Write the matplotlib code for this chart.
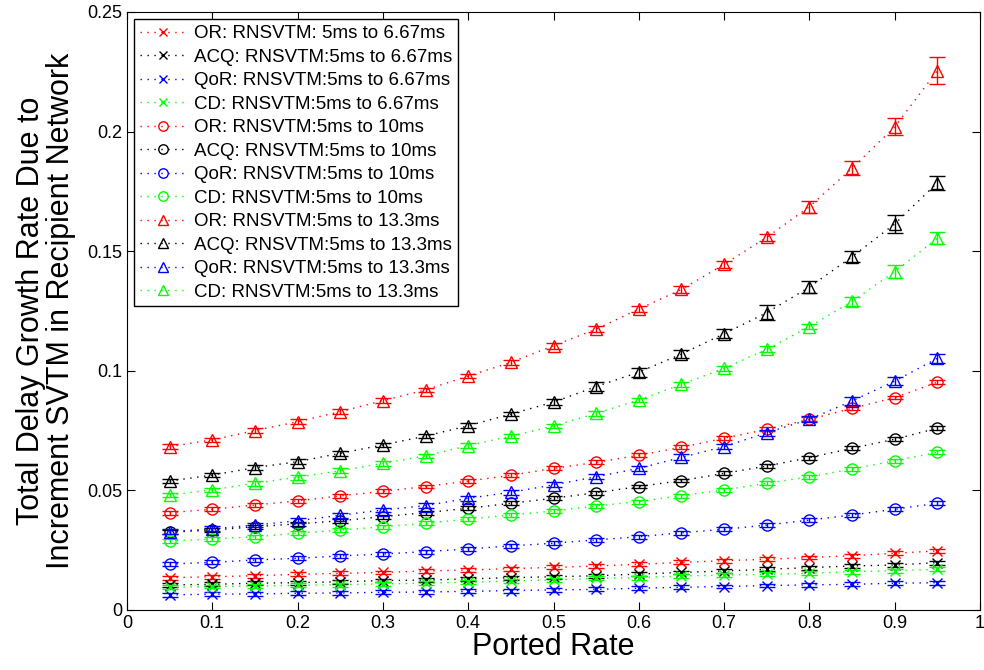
import numpy as np
import matplotlib.pyplot as plt

plt.rcParams['font.family'] = ['Liberation Sans', 'DejaVu Sans']

rate = [0.05, 0.1, 0.15, 0.2, 0.25, 0.3, 0.35, 0.4, 0.45, 0.5,
        0.55, 0.6, 0.65, 0.7, 0.75, 0.8, 0.85, 0.9, 0.95]

# 5ms to 6.67ms
or_667 = [0.0135, 0.0139, 0.0143, 0.0149, 0.0153, 0.0157, 0.0163, 0.0167, 0.0173, 0.0178,
          0.0184, 0.0191, 0.0199, 0.0206, 0.0212, 0.0219, 0.0227, 0.0237, 0.0247]
acq_667 = [0.0105, 0.0107, 0.0112, 0.0114, 0.0118, 0.0123, 0.0125, 0.0130, 0.0135, 0.0139,
           0.0143, 0.0150, 0.0157, 0.0163, 0.0170, 0.0177, 0.0184, 0.0188, 0.0198]
qor_667 = [0.0063, 0.0066, 0.0067, 0.0070, 0.0071, 0.0074, 0.0075, 0.0078, 0.0081, 0.0084,
           0.0086, 0.0091, 0.0095, 0.0098, 0.0102, 0.0105, 0.0107, 0.0112, 0.0114]
cd_667 = [0.0095, 0.0098, 0.0100, 0.0103, 0.0106, 0.0109, 0.0112, 0.0116, 0.0121, 0.0126,
          0.0132, 0.0135, 0.0142, 0.0146, 0.0149, 0.0153, 0.0160, 0.0164, 0.0170]

# 5ms to 10ms
or_10 = [0.0407, 0.0421, 0.0439, 0.0456, 0.0477, 0.0496, 0.0516, 0.0539, 0.0563, 0.0592,
         0.0617, 0.0647, 0.0680, 0.0718, 0.0755, 0.0797, 0.0843, 0.0888, 0.0952]
acq_10 = [0.0325, 0.0334, 0.0348, 0.0360, 0.0373, 0.0390, 0.0407, 0.0425, 0.0446, 0.0467,
          0.0490, 0.0516, 0.0541, 0.0571, 0.0602, 0.0637, 0.0676, 0.0714, 0.0760]
qor_10 = [0.0192, 0.0199, 0.0209, 0.0216, 0.0226, 0.0234, 0.0244, 0.0255, 0.0268, 0.0279,
          0.0293, 0.0306, 0.0323, 0.0337, 0.0355, 0.0376, 0.0397, 0.0421, 0.0446]
cd_10 = [0.0288, 0.0297, 0.0306, 0.0321, 0.0334, 0.0348, 0.0362, 0.0380, 0.0397, 0.0414,
         0.0435, 0.0453, 0.0478, 0.0502, 0.0530, 0.0557, 0.0589, 0.0624, 0.0659]

# 5ms to 13.3ms
or_133 = [0.0683, 0.0711, 0.0750, 0.0787, 0.0829, 0.0875, 0.0920, 0.0978, 0.1035, 0.1105,
          0.1174, 0.1258, 0.1340, 0.1445, 0.1558, 0.1686, 0.1847, 0.2020, 0.2255]
acq_133 = [0.0539, 0.0564, 0.0595, 0.0620, 0.0655, 0.0690, 0.0727, 0.0770, 0.0819, 0.0869,
           0.0934, 0.0994, 0.1070, 0.1155, 0.1243, 0.1350, 0.1477, 0.1614, 0.1786]
qor_133 = [0.0327, 0.0339, 0.0355, 0.0373, 0.0396, 0.0418, 0.0436, 0.0467, 0.0492, 0.0523,
           0.0557, 0.0592, 0.0638, 0.0683, 0.0741, 0.0797, 0.0874, 0.0957, 0.1052]
cd_133 = [0.0481, 0.0502, 0.0530, 0.0555, 0.0582, 0.0613, 0.0644, 0.0687, 0.0727, 0.0769,
          0.0822, 0.0878, 0.0943, 0.1010, 0.1090, 0.1185, 0.1290, 0.1415, 0.1554]

# error bar half widths
err_small = [0.0008, 0.0008, 0.0008, 0.0008, 0.0008, 0.0008, 0.0008, 0.0008, 0.0008, 0.0008,
             0.0008, 0.0008, 0.0008, 0.0008, 0.0008, 0.0008, 0.0008, 0.0008, 0.0008]
err_or_133 = [0.0010, 0.0010, 0.0010, 0.0010, 0.0010, 0.0010, 0.0010, 0.0010, 0.0010, 0.0012,
              0.0013, 0.0014, 0.0015, 0.0015, 0.0015, 0.0025, 0.0030, 0.0035, 0.0058]
err_acq_133 = [0.0010, 0.0010, 0.0010, 0.0010, 0.0010, 0.0010, 0.0010, 0.0010, 0.0010, 0.0012,
               0.0018, 0.0018, 0.0015, 0.0020, 0.0030, 0.0025, 0.0022, 0.0038, 0.0030]
err_cd_133 = [0.0010, 0.0010, 0.0010, 0.0010, 0.0010, 0.0010, 0.0010, 0.0010, 0.0010, 0.0010,
              0.0010, 0.0010, 0.0010, 0.0012, 0.0012, 0.0012, 0.0018, 0.0028, 0.0025]
err_qor_133 = [0.0010, 0.0010, 0.0010, 0.0010, 0.0010, 0.0010, 0.0010, 0.0010, 0.0010, 0.0010,
               0.0010, 0.0010, 0.0012, 0.0012, 0.0012, 0.0012, 0.0015, 0.0018, 0.0018]

series = [
    ('OR: RNSVTM: 5ms to 6.67ms', or_667, err_small, 'x', 'r'),
    ('ACQ: RNSVTM:5ms to 6.67ms', acq_667, err_small, 'x', 'k'),
    ('QoR: RNSVTM:5ms to 6.67ms', qor_667, err_small, 'x', 'b'),
    ('CD: RNSVTM:5ms to 6.67ms', cd_667, err_small, 'x', '#00ff00'),
    ('OR: RNSVTM:5ms to 10ms', or_10, err_small, 'o', 'r'),
    ('ACQ: RNSVTM:5ms to 10ms', acq_10, err_small, 'o', 'k'),
    ('QoR: RNSVTM:5ms to 10ms', qor_10, err_small, 'o', 'b'),
    ('CD: RNSVTM:5ms to 10ms', cd_10, err_small, 'o', '#00ff00'),
    ('OR: RNSVTM:5ms to 13.3ms', or_133, err_or_133, '^', 'r'),
    ('ACQ: RNSVTM:5ms to 13.3ms', acq_133, err_acq_133, '^', 'k'),
    ('QoR: RNSVTM:5ms to 13.3ms', qor_133, err_qor_133, '^', 'b'),
    ('CD: RNSVTM:5ms to 13.3ms', cd_133, err_cd_133, '^', '#00ff00'),
]

fig = plt.figure(figsize=(9.84, 6.70), dpi=100)
ax = fig.add_axes([0.129, 0.0896, 0.867, 0.8925])

dots = (0, (1, 4))
for label, y, e, m, c in series:
    ms = 6.5 if m == 'x' else 8
    ax.errorbar(rate, y, yerr=e, fmt='none', ecolor=c, capsize=5.5,
                elinewidth=1, capthick=1)
    ax.plot(rate, y, marker=m, color=c, ls=dots, lw=1, mfc='none', mec=c,
            ms=ms, label=label)

ax.set_xlim(0, 1)
ax.set_ylim(0, 0.25)
ax.set_xticks(np.arange(0, 1.01, 0.1))
ax.set_xticklabels(['0', '0.1', '0.2', '0.3', '0.4', '0.5', '0.6', '0.7', '0.8', '0.9', '1'])
ax.set_yticks([0, 0.05, 0.1, 0.15, 0.2, 0.25])
ax.set_yticklabels(['0', '0.05', '0.1', '0.15', '0.2', '0.25'])
ax.tick_params(direction='in', top=True, right=True, labelsize=13, length=6)
ax.set_xlabel('Ported Rate', fontsize=22, labelpad=0)
ax.set_ylabel('Total Delay Growth Rate Due to\nIncrement SVTM in Recipient Network',
              fontsize=22, linespacing=1.0, labelpad=8)

leg = ax.legend(loc='upper left', fontsize=13.5, fancybox=False, edgecolor='k',
                framealpha=1, borderpad=0.3, labelspacing=0.34, handlelength=2.5,
                handletextpad=0.4, borderaxespad=0.4, markerscale=0.85)
leg.get_frame().set_linewidth(1)

fig.savefig('out.png', dpi=100)
